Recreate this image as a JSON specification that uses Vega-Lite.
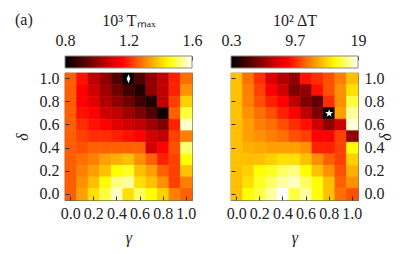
{
"$schema": "https://vega.github.io/schema/vega-lite/v6.json",
"padding": {"left": 13, "top": 12, "right": 2, "bottom": 2},
"spacing": 19,
"resolve": {"scale": {"color": "independent", "stroke": "independent"}},
"datasets": {
"grid": [
{"g":0,"d":1,"T":1.26,"dT":13.76},{"g":0.1,"d":1,"T":1.177,"dT":11.52},{"g":0.2,"d":1,"T":1.06,"dT":9.84},{"g":0.3,"d":1,"T":1.0,"dT":7.48},{"g":0.4,"d":1,"T":0.914,"dT":5.91},{"g":0.5,"d":1,"T":0.8,"dT":4.98},{"g":0.6,"d":1,"T":0.914,"dT":9.11},{"g":0.7,"d":1,"T":1.0,"dT":9.84},{"g":0.8,"d":1,"T":1.06,"dT":10.72},{"g":0.9,"d":1,"T":1.194,"dT":11.97},{"g":1,"d":1,"T":1.28,"dT":13.76},
{"g":0,"d":0.9,"T":1.26,"dT":13.76},{"g":0.1,"d":0.9,"T":1.16,"dT":11.97},{"g":0.2,"d":0.9,"T":1.08,"dT":10.32},{"g":0.3,"d":0.9,"T":1.02,"dT":8.72},{"g":0.4,"d":0.9,"T":0.96,"dT":6.85},{"g":0.5,"d":0.9,"T":0.891,"dT":4.51},{"g":0.6,"d":0.9,"T":0.846,"dT":4.98},{"g":0.7,"d":0.9,"T":1.0,"dT":9.11},{"g":0.8,"d":0.9,"T":1.06,"dT":10.72},{"g":0.9,"d":0.9,"T":1.194,"dT":12.42},{"g":1,"d":0.9,"T":1.318,"dT":14.72},
{"g":0,"d":0.8,"T":1.26,"dT":13.76},{"g":0.1,"d":0.8,"T":1.16,"dT":11.97},{"g":0.2,"d":0.8,"T":1.107,"dT":10.72},{"g":0.3,"d":0.8,"T":1.04,"dT":9.52},{"g":0.4,"d":0.8,"T":1.0,"dT":8.72},{"g":0.5,"d":0.8,"T":0.96,"dT":6.38},{"g":0.6,"d":0.8,"T":0.891,"dT":4.51},{"g":0.7,"d":0.8,"T":0.846,"dT":3.5},{"g":0.8,"d":0.8,"T":1.06,"dT":9.84},{"g":0.9,"d":0.8,"T":1.229,"dT":12.42},{"g":1,"d":0.8,"T":1.396,"dT":16.48},
{"g":0,"d":0.7,"T":1.26,"dT":13.76},{"g":0.1,"d":0.7,"T":1.177,"dT":12.42},{"g":0.2,"d":0.7,"T":1.16,"dT":11.52},{"g":0.3,"d":0.7,"T":1.08,"dT":10.72},{"g":0.4,"d":0.7,"T":1.06,"dT":9.52},{"g":0.5,"d":0.7,"T":1.02,"dT":8.72},{"g":0.6,"d":0.7,"T":0.98,"dT":6.38},{"g":0.7,"d":0.7,"T":0.914,"dT":4.51},{"g":0.8,"d":0.7,"T":0.823,"dT":0.3},{"g":0.9,"d":0.7,"T":1.264,"dT":12.87},{"g":1,"d":0.7,"T":1.492,"dT":17.75},
{"g":0,"d":0.6,"T":1.26,"dT":13.76},{"g":0.1,"d":0.6,"T":1.208,"dT":12.87},{"g":0.2,"d":0.6,"T":1.177,"dT":11.97},{"g":0.3,"d":0.6,"T":1.16,"dT":11.52},{"g":0.4,"d":0.6,"T":1.107,"dT":10.72},{"g":0.5,"d":0.6,"T":1.08,"dT":9.84},{"g":0.6,"d":0.6,"T":1.06,"dT":9.11},{"g":0.7,"d":0.6,"T":1.02,"dT":6.85},{"g":0.8,"d":0.6,"T":0.98,"dT":4.98},{"g":0.9,"d":0.6,"T":1.194,"dT":6.85},{"g":1,"d":0.6,"T":1.568,"dT":18.44},
{"g":0,"d":0.5,"T":1.26,"dT":13.76},{"g":0.1,"d":0.5,"T":1.229,"dT":12.87},{"g":0.2,"d":0.5,"T":1.208,"dT":12.42},{"g":0.3,"d":0.5,"T":1.208,"dT":11.97},{"g":0.4,"d":0.5,"T":1.194,"dT":11.52},{"g":0.5,"d":0.5,"T":1.177,"dT":10.72},{"g":0.6,"d":0.5,"T":1.16,"dT":10.32},{"g":0.7,"d":0.5,"T":1.08,"dT":8.72},{"g":0.8,"d":0.5,"T":1.06,"dT":8.72},{"g":0.9,"d":0.5,"T":1.229,"dT":10.32},{"g":1,"d":0.5,"T":1.299,"dT":4.98},
{"g":0,"d":0.4,"T":1.26,"dT":13.76},{"g":0.1,"d":0.4,"T":1.246,"dT":13.32},{"g":0.2,"d":0.4,"T":1.264,"dT":13.1},{"g":0.3,"d":0.4,"T":1.264,"dT":12.87},{"g":0.4,"d":0.4,"T":1.264,"dT":12.87},{"g":0.5,"d":0.4,"T":1.264,"dT":12.87},{"g":0.6,"d":0.4,"T":1.264,"dT":12.42},{"g":0.7,"d":0.4,"T":1.08,"dT":9.52},{"g":0.8,"d":0.4,"T":1.16,"dT":9.52},{"g":0.9,"d":0.4,"T":1.246,"dT":10.32},{"g":1,"d":0.4,"T":1.52,"dT":15.63},
{"g":0,"d":0.3,"T":1.26,"dT":13.76},{"g":0.1,"d":0.3,"T":1.28,"dT":13.76},{"g":0.2,"d":0.3,"T":1.299,"dT":13.76},{"g":0.3,"d":0.3,"T":1.338,"dT":14.23},{"g":0.4,"d":0.3,"T":1.357,"dT":14.72},{"g":0.5,"d":0.3,"T":1.376,"dT":14.72},{"g":0.6,"d":0.3,"T":1.318,"dT":13.76},{"g":0.7,"d":0.3,"T":1.264,"dT":12.42},{"g":0.8,"d":0.3,"T":1.194,"dT":11.15},{"g":0.9,"d":0.3,"T":1.229,"dT":10.32},{"g":1,"d":0.3,"T":1.456,"dT":14.23},
{"g":0,"d":0.2,"T":1.26,"dT":13.76},{"g":0.1,"d":0.2,"T":1.299,"dT":14.23},{"g":0.2,"d":0.2,"T":1.338,"dT":15.63},{"g":0.3,"d":0.2,"T":1.376,"dT":16.06},{"g":0.4,"d":0.2,"T":1.456,"dT":16.9},{"g":0.5,"d":0.2,"T":1.474,"dT":17.32},{"g":0.6,"d":0.2,"T":1.376,"dT":15.63},{"g":0.7,"d":0.2,"T":1.338,"dT":13.76},{"g":0.8,"d":0.2,"T":1.264,"dT":12.42},{"g":0.9,"d":0.2,"T":1.229,"dT":10.72},{"g":1,"d":0.2,"T":1.376,"dT":13.32},
{"g":0,"d":0.1,"T":1.26,"dT":13.76},{"g":0.1,"d":0.1,"T":1.318,"dT":14.72},{"g":0.2,"d":0.1,"T":1.376,"dT":16.06},{"g":0.3,"d":0.1,"T":1.456,"dT":16.9},{"g":0.4,"d":0.1,"T":1.528,"dT":17.75},{"g":0.5,"d":0.1,"T":1.544,"dT":18.16},{"g":0.6,"d":0.1,"T":1.417,"dT":16.9},{"g":0.7,"d":0.1,"T":1.376,"dT":15.63},{"g":0.8,"d":0.1,"T":1.318,"dT":13.76},{"g":0.9,"d":0.1,"T":1.229,"dT":11.15},{"g":1,"d":0.1,"T":1.299,"dT":12.42},
{"g":0,"d":0,"T":1.26,"dT":13.76},{"g":0.1,"d":0,"T":1.338,"dT":15.63},{"g":0.2,"d":0,"T":1.417,"dT":16.48},{"g":0.3,"d":0,"T":1.492,"dT":17.75},{"g":0.4,"d":0,"T":1.568,"dT":19.0},{"g":0.5,"d":0,"T":1.417,"dT":16.48},{"g":0.6,"d":0,"T":1.51,"dT":17.75},{"g":0.7,"d":0,"T":1.456,"dT":15.63},{"g":0.8,"d":0,"T":1.396,"dT":13.76},{"g":0.9,"d":0,"T":1.299,"dT":11.52},{"g":1,"d":0,"T":1.264,"dT":10.72}
]
},
"hconcat": [
{
"bounds": "flush",
"spacing": 5,
"vconcat": [
{
"width": 127, "height": 12,
"title": {"text": "(a)", "anchor": "start", "frame": "group", "dx": -50, "offset": -16, "fontSize": 16, "font": "Liberation Serif", "fontWeight": "normal", "color": "#222"},
"view": {"stroke": null},
"data": {"values": [{"lo": 0.8, "hi": 1.6}]},
"mark": {"type": "rect", "stroke": "#8a8a8a", "strokeWidth": 1,
"fill": {"gradient": "linear", "x1": 0, "x2": 1, "y1": 0, "y2": 0, "stops": [
{"offset": 0, "color": "#000000"}, {"offset": 0.2, "color": "#700000"}, {"offset": 0.35, "color": "#d00000"}, {"offset": 0.45, "color": "#ff0000"}, {"offset": 0.6, "color": "#ff7000"}, {"offset": 0.72, "color": "#ffc000"}, {"offset": 0.82, "color": "#ffff00"}, {"offset": 1, "color": "#ffffff"}]}},
"encoding": {
"x": {"field": "lo", "type": "quantitative", "scale": {"domain": [0.8, 1.6], "nice": false, "zero": false},
"axis": {"orient": "top", "values": [0.8, 1.2, 1.6], "format": ".1f", "tickSize": -4, "labelPadding": 12, "labelFlush": false, "title": "10³ Tₘₐₓ", "titlePadding": 4}},
"x2": {"field": "hi"}
}
},
{
"width": 127, "height": 127,
"view": {"stroke": "#6e6e50", "strokeWidth": 1.2},
"layer": [
{
"data": {"name": "grid"},
"mark": {"type": "rect", "strokeWidth": 0.6},
"encoding": {
"x": {"field": "g", "type": "ordinal", "scale": {"domain": [0,0.1,0.2,0.3,0.4,0.5,0.6,0.7,0.8,0.9,1], "padding": 0},
"axis": {"orient": "bottom", "values": [0,0.2,0.4,0.6,0.8,1], "labelExpr": "format(datum.value, '.1f')", "tickSize": -4, "labelPadding": 9, "labelAngle": 0, "labelOverlap": false, "title": "γ", "titleFontStyle": "italic", "titlePadding": 8}},
"y": {"field": "d", "type": "ordinal", "scale": {"domain": [1,0.9,0.8,0.7,0.6,0.5,0.4,0.3,0.2,0.1,0], "padding": 0},
"axis": {"orient": "left", "values": [0,0.2,0.4,0.6,0.8,1], "labelExpr": "format(datum.value, '.1f')", "tickSize": -4, "labelPadding": 10, "labelOverlap": false, "title": "δ", "titleFontStyle": "italic", "titlePadding": 9}},
"color": {"field": "T", "type": "quantitative", "legend": null,
"scale": {"domain": [0.8, 0.96, 1.08, 1.16, 1.28, 1.376, 1.456, 1.6], "range": ["#000000", "#700000", "#d00000", "#ff0000", "#ff7000", "#ffc000", "#ffff00", "#ffffff"], "interpolate": "rgb"}},
"stroke": {"field": "T", "type": "quantitative", "legend": null,
"scale": {"domain": [0.8, 0.96, 1.08, 1.16, 1.28, 1.376, 1.456, 1.6], "range": ["#000000", "#700000", "#d00000", "#ff0000", "#ff7000", "#ffc000", "#ffff00", "#ffffff"], "interpolate": "rgb"}}
}
},
{
"data": {"values": [{"g": 0.5, "d": 1}]},
"mark": {"type": "point", "shape": "M0,-1L0.4,0L0,1L-0.4,0Z", "filled": true, "color": "white", "opacity": 1, "size": 81, "strokeWidth": 0},
"encoding": {
"x": {"field": "g", "type": "ordinal", "axis": {"orient": "top", "values": [0,0.2,0.4,0.6,0.8,1], "labels": false, "tickSize": -4, "title": null}},
"y": {"field": "d", "type": "ordinal", "axis": {"orient": "right", "values": [0,0.2,0.4,0.6,0.8,1], "labels": false, "tickSize": -4, "title": null}}
}
}
],
"resolve": {"axis": {"x": "independent", "y": "independent"}}
}
]
},
{
"bounds": "flush",
"spacing": 5,
"vconcat": [
{
"width": 127, "height": 12,
"view": {"stroke": null},
"data": {"values": [{"lo": 0.3, "hi": 19}]},
"mark": {"type": "rect", "stroke": "#8a8a8a", "strokeWidth": 1,
"fill": {"gradient": "linear", "x1": 0, "x2": 1, "y1": 0, "y2": 0, "stops": [
{"offset": 0, "color": "#000000"}, {"offset": 0.2, "color": "#700000"}, {"offset": 0.35, "color": "#d00000"}, {"offset": 0.45, "color": "#ff0000"}, {"offset": 0.6, "color": "#ff7000"}, {"offset": 0.72, "color": "#ffc000"}, {"offset": 0.82, "color": "#ffff00"}, {"offset": 1, "color": "#ffffff"}]}},
"encoding": {
"x": {"field": "lo", "type": "quantitative", "scale": {"domain": [0.3, 19], "nice": false, "zero": false},
"axis": {"orient": "top", "values": [0.3, 9.7, 19], "format": "~g", "tickSize": -4, "labelPadding": 12, "labelFlush": false, "title": "10² ΔT", "titlePadding": 4}},
"x2": {"field": "hi"}
}
},
{
"width": 127, "height": 127,
"view": {"stroke": "#6e6e50", "strokeWidth": 1.2},
"layer": [
{
"data": {"name": "grid"},
"mark": {"type": "rect", "strokeWidth": 0.6},
"encoding": {
"x": {"field": "g", "type": "ordinal", "scale": {"domain": [0,0.1,0.2,0.3,0.4,0.5,0.6,0.7,0.8,0.9,1], "padding": 0},
"axis": {"orient": "bottom", "values": [0,0.2,0.4,0.6,0.8,1], "labelExpr": "format(datum.value, '.1f')", "tickSize": -4, "labelPadding": 9, "labelAngle": 0, "labelOverlap": false, "title": "γ", "titleFontStyle": "italic", "titlePadding": 8}},
"y": {"field": "d", "type": "ordinal", "scale": {"domain": [1,0.9,0.8,0.7,0.6,0.5,0.4,0.3,0.2,0.1,0], "padding": 0},
"axis": {"orient": "left", "values": [0,0.2,0.4,0.6,0.8,1], "labels": false, "tickSize": -4, "title": null}},
"color": {"field": "dT", "type": "quantitative", "legend": null,
"scale": {"domain": [0.3, 4.04, 6.845, 8.715, 11.52, 13.764, 15.634, 19], "range": ["#000000", "#700000", "#d00000", "#ff0000", "#ff7000", "#ffc000", "#ffff00", "#ffffff"], "interpolate": "rgb"}},
"stroke": {"field": "dT", "type": "quantitative", "legend": null,
"scale": {"domain": [0.3, 4.04, 6.845, 8.715, 11.52, 13.764, 15.634, 19], "range": ["#000000", "#700000", "#d00000", "#ff0000", "#ff7000", "#ffc000", "#ffff00", "#ffffff"], "interpolate": "rgb"}}
}
},
{
"data": {"values": [{"g": 0.8, "d": 0.7}]},
"mark": {"type": "point", "shape": "M0,-1L0.235,-0.324L0.951,-0.309L0.38,0.124L0.588,0.809L0,0.4L-0.588,0.809L-0.38,0.124L-0.951,-0.309L-0.235,-0.324Z", "filled": true, "color": "white", "opacity": 1, "size": 70, "strokeWidth": 0},
"encoding": {
"x": {"field": "g", "type": "ordinal", "axis": {"orient": "top", "values": [0,0.2,0.4,0.6,0.8,1], "labels": false, "tickSize": -4, "title": null}},
"y": {"field": "d", "type": "ordinal", "axis": {"orient": "right", "values": [0,0.2,0.4,0.6,0.8,1], "labelExpr": "format(datum.value, '.1f')", "tickSize": -4, "labelPadding": 10, "labelOverlap": false, "title": "δ", "titleFontStyle": "italic", "titleAngle": 270, "titlePadding": 9}}
}
}
],
"resolve": {"axis": {"x": "independent", "y": "independent"}}
}
]
}
],
"config": {
"font": "Liberation Serif",
"axis": {"labelFont": "Liberation Serif", "titleFont": "Liberation Serif", "labelFontSize": 16, "titleFontSize": 16, "titleFontWeight": "normal", "labelColor": "#222", "titleColor": "#222", "tickColor": "#333", "tickWidth": 1, "domain": false, "grid": false},
"title": {"font": "Liberation Serif", "fontSize": 16, "fontWeight": "normal"}
}
}
